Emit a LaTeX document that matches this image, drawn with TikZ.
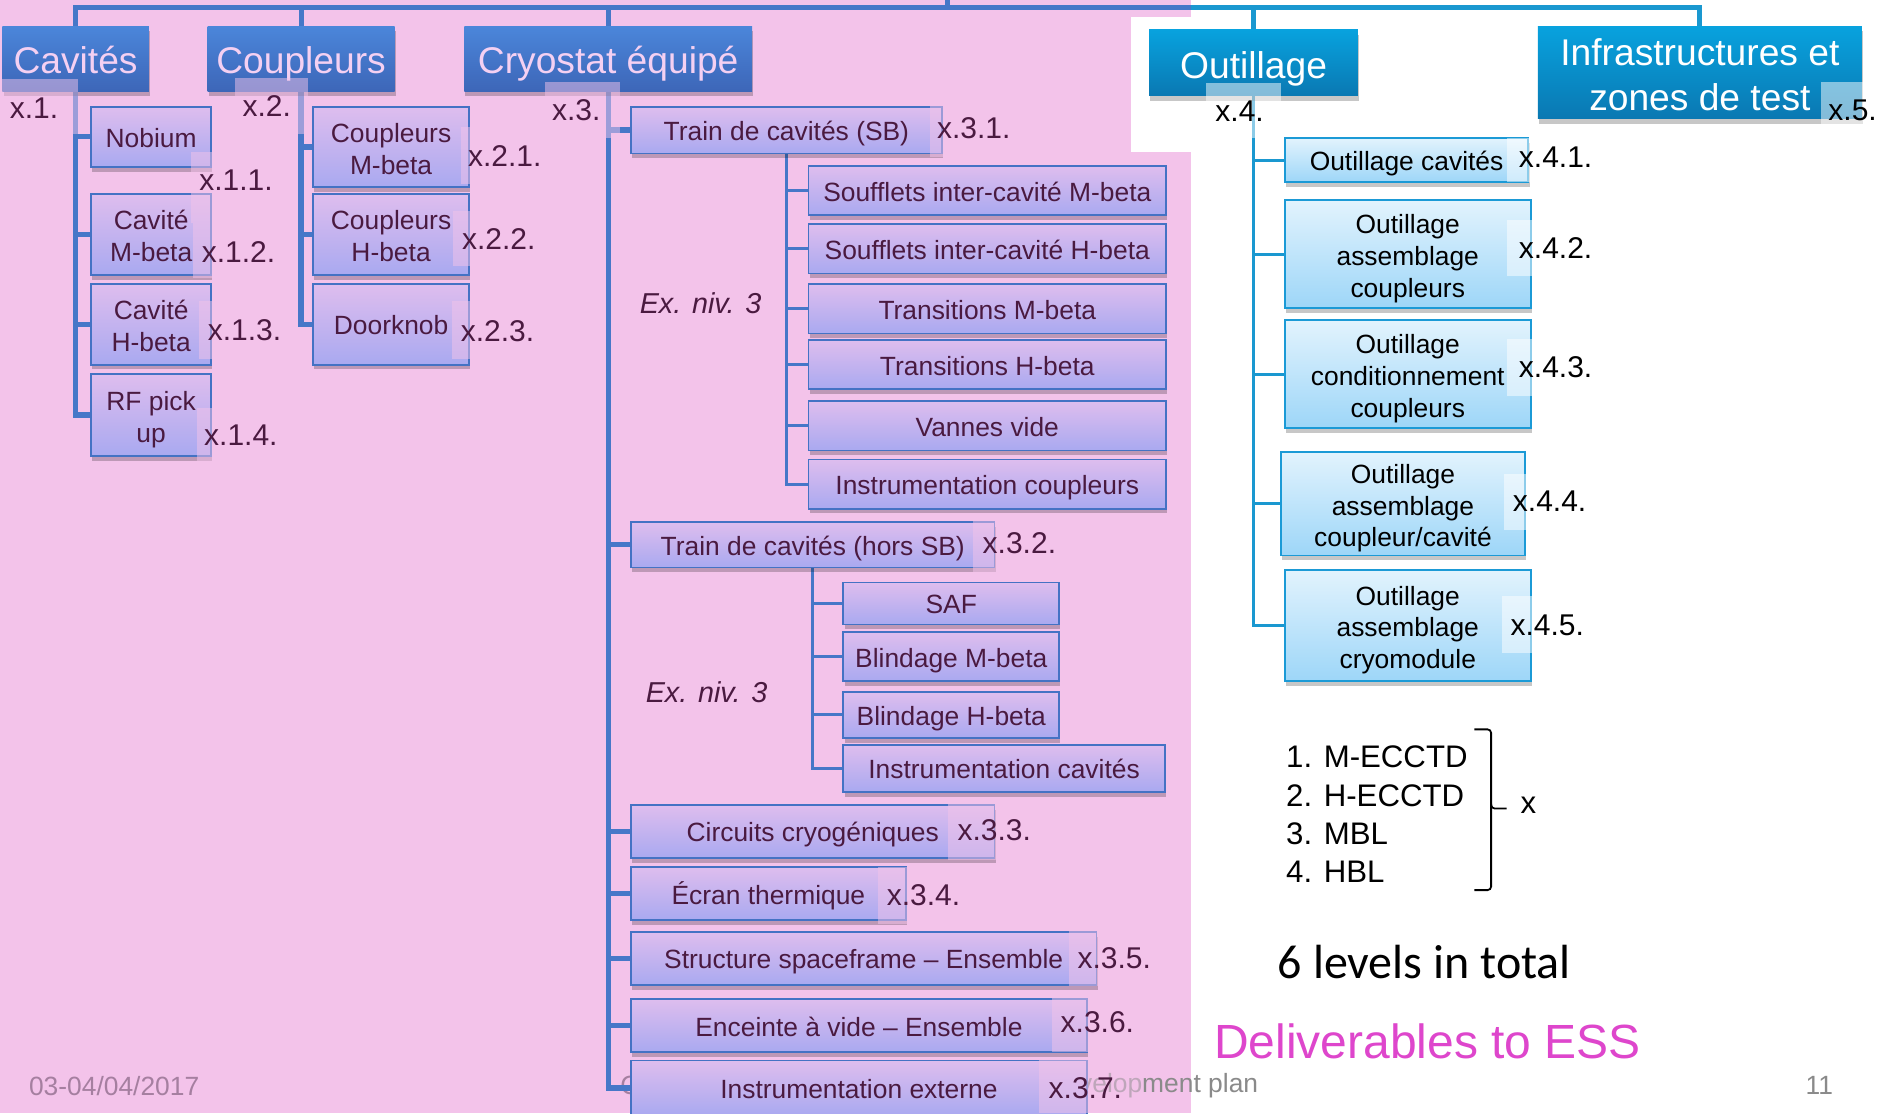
\documentclass[tikz,border=0pt]{standalone}
\usepackage{fontspec}
\setmainfont{Liberation Sans}
\newfontfamily\bodyfont{Carlito}
\usetikzlibrary{shadows}

\definecolor{pinkbg}{HTML}{F3C3EA}
\definecolor{hdrtop}{HTML}{4B86DA}
\definecolor{hdrbot}{HTML}{3D66B8}
\definecolor{hdrtxt}{HTML}{F4D0F2}
\definecolor{tealtop}{HTML}{08A2DE}
\definecolor{tealbot}{HTML}{0A78B2}
\definecolor{linkblue}{HTML}{4677C8}
\definecolor{linkteal}{HTML}{1A98D0}
\definecolor{boxtop}{HTML}{DEBDEE}
\definecolor{boxbot}{HTML}{A9A9F0}
\definecolor{boxedge}{HTML}{4472C4}
\definecolor{plum}{HTML}{4A1A40}
\definecolor{ltop}{HTML}{E2F3FD}
\definecolor{lbot}{HTML}{9DD6F8}
\definecolor{tealedge}{HTML}{1B9AD6}
\definecolor{magentatxt}{HTML}{DE46CC}
\definecolor{footgray}{HTML}{8A8A8A}
\definecolor{footpink}{HTML}{A57FA0}

\pgfdeclarelayer{back}
\pgfdeclarelayer{links}
\pgfsetlayers{back,links,main}

\tikzset{
  sz/.style 2 args={minimum width=#1pt, minimum height=#2pt},
  shade box/.style={drop shadow={shadow xshift=1pt, shadow yshift=-4pt, opacity=.22, fill=black}},
  % invisible rules fix where the text block sits in its box;
  % the argument of ml is the number of lines after the first one
  struts/.style={execute at begin node={\rule{0pt}{#1em}},
                 execute at end node={\rule[-.212em]{0pt}{.212em}}},
  struts/.default=1.0,
  ml/.style={execute at begin node={\rule{0pt}{\dimexpr #1\baselineskip+1.06em\relax}}},
  hdr/.style={draw=none, top color=hdrtop, bottom color=hdrbot, text=hdrtxt,
    font=\fontsize{31}{37.6}\selectfont, align=center, inner sep=0pt, struts=1.03, shade box},
  thdr/.style={hdr, top color=tealtop, bottom color=tealbot, text=white},
  wbs/.style={draw=boxedge, line width=1.5pt, top color=boxtop, bottom color=boxbot,
    text=plum, font=\fontsize{22}{26.5}\selectfont, align=center, inner sep=0pt, struts, shade box},
  tool/.style={wbs, draw=tealedge, top color=ltop, bottom color=lbot, text=black},
  bar/.style={draw=linkblue, line width=4pt},
  tbar/.style={draw=linkteal, line width=4pt},
  link/.style={draw=linkblue, line width=4.5pt},
  sublink/.style={draw=linkblue, line width=2.5pt},
  tlink/.style={draw=linkteal, line width=2.3pt},
  pveil/.style={fill=pinkbg, fill opacity=.5},
  wveil/.style={fill=white, fill opacity=.5},
  lbl/.style={font=\fontsize{25}{30}\selectfont, text=plum, inner sep=0pt, anchor=west},
  lblk/.style={lbl, text=black},
  foot/.style={font=\fontsize{22}{26}\selectfont, inner sep=0pt, anchor=west},
  note/.style={font=\fontsize{24}{28}\selectfont\itshape, text=plum, inner sep=0pt},
  item/.style={font=\fontsize{26}{32}\selectfont, text=black, inner sep=0pt, anchor=west},
}

\begin{document}
\begin{tikzpicture}[x=1pt,y=-1pt]
\useasboundingbox (0,0) rectangle (1568,928);

% ---------- backdrop and footer ----------
\begin{pgfonlayer}{back}
  \fill[white] (0,0) rectangle (1568,928);
  \fill[pinkbg] (0,0) rectangle (993,928);
  \fill[white] (943,14) rectangle (993,127);
  \node[foot, text=footpink] (date) at (24,905) {03-04/04/2017};
  \node[foot, text=footpink] (footc) at (517,905) {C};
  \node[foot, text=footgray, anchor=east] (footr) at (1049,905) {development plan};
  \node[foot, text=footgray] (page) at (1505,905) {11};
\end{pgfonlayer}

% ---------- level 1 ----------
\node[hdr, sz={122}{54}] (hcav) at (63,49) {Cavités};
\node[hdr, sz={156}{54}] (hcoup) at (251,49) {Coupleurs};
\node[hdr, sz={240}{54}] (hcryo) at (507,49) {Cryostat équipé};
\node[thdr, sz={174}{55}] (hout) at (1045,52.5) {Outillage};
\node[thdr, sz={270}{73}, ml=1] (hinf) at (1417,60.5) {Infrastructures et\\zones de test};

% ---------- Cavités ----------
\node[wbs, sz={100}{50}] (nob) at (126,114) {Nobium};
\node[wbs, ml=1, sz={100}{67}] (cavm) at (126,195.5) {Cavité\\M-beta};
\node[wbs, ml=1, sz={100}{67}] (cavh) at (126,270.5) {Cavité\\H-beta};
\node[wbs, ml=1, sz={100}{68}] (rfpu) at (126,346) {RF pick\\up};

% ---------- Coupleurs ----------
\node[wbs, ml=1, sz={130}{67}] (coupm) at (326,122.5) {Coupleurs\\M-beta};
\node[wbs, ml=1, sz={130}{67}] (couph) at (326,195.5) {Coupleurs\\H-beta};
\node[wbs, sz={130}{67}] (door) at (326,270.5) {Doorknob};

% ---------- Cryostat équipé ----------
\node[wbs, sz={259}{39}] (tsb) at (655.5,108.5) {Train de cavités (SB)};
\node[wbs, sz={298}{41}] (sb1) at (823,159) {Soufflets inter-cavité M-beta};
\node[wbs, sz={298}{41}] (sb2) at (823,207.5) {Soufflets inter-cavité H-beta};
\node[wbs, sz={298}{41}] (sb3) at (823,257.5) {Transitions M-beta};
\node[wbs, sz={298}{41}] (sb4) at (823,304) {Transitions H-beta};
\node[wbs, sz={298}{41}] (sb5) at (823,355) {Vannes vide};
\node[wbs, sz={298}{41}] (sb6) at (823,403.5) {Instrumentation coupleurs};

\node[wbs, sz={303}{38}] (ths) at (677.5,454) {Train de cavités (hors SB)};
\node[wbs, sz={180}{35}] (saf) at (793,503) {SAF};
\node[wbs, sz={180}{41}] (blm) at (793,547.5) {Blindage M-beta};
\node[wbs, sz={180}{38}] (blh) at (793,596) {Blindage H-beta};
\node[wbs, sz={268}{39}] (icav) at (837,640.5) {Instrumentation cavités};

\node[wbs, sz={303}{44}] (circ) at (677.5,693) {Circuits cryogéniques};
\node[wbs, sz={229}{44}] (ecr) at (640.5,745) {Écran thermique};
\node[wbs, sz={388}{44}] (struc) at (720,799) {Structure spaceframe – Ensemble};
\node[wbs, sz={380}{44}] (ence) at (716,855) {Enceinte à vide – Ensemble};
\node[wbs, sz={380}{46}] (iext) at (716,907) {Instrumentation externe};

\node[note] (ex1) at (584,253) {Ex. niv. 3};
\node[note] (ex2) at (589,577) {Ex. niv. 3};

% ---------- Outillage ----------
\node[tool, sz={203}{37}] (oc) at (1172.5,133.5) {Outillage cavités};
\node[tool, ml=2, sz={205}{90}] (oac) at (1173.5,212) {Outillage\\assemblage\\coupleurs};
\node[tool, ml=2, sz={205}{90}] (occ) at (1173.5,312) {Outillage\\conditionnement\\coupleurs};
\node[tool, ml=2, sz={203}{86}] (oacc) at (1169.5,420) {Outillage\\assemblage\\coupleur/cavité};
\node[tool, ml=2, sz={205}{93}] (oacm) at (1173.5,521.5) {Outillage\\assemblage\\cryomodule};

% ---------- connectors ----------
\coordinate (root) at (790,0);
\coordinate (hub) at (790,6);
\coordinate (edge) at (993,6);
\begin{pgfonlayer}{links}
  \draw[bar] (hcav.north) |- (hub);
  \draw[bar] (hcoup.north) -- (hcoup.north |- hub);
  \draw[bar] (hcryo.north) -- (hcryo.north |- hub);
  \draw[bar] (root) -- (hub) -- (edge);
  \draw[tbar] (edge) -| (hinf.north);
  \draw[tbar] (hout.north) -- (hout.north |- hub);

  \draw[link] (hcav.south) -- (hcav.south |- rfpu.west) -- (rfpu.west);
  \foreach \n in {nob,cavm,cavh} \draw[link] (hcav.south |- \n.west) -- (\n.west);

  \draw[link] (hcoup.south) -- (hcoup.south |- door.west) -- (door.west);
  \foreach \n in {coupm,couph} \draw[link] (hcoup.south |- \n.west) -- (\n.west);

  \draw[link] (hcryo.south) -- (hcryo.south |- iext.west) -- (iext.west);
  \foreach \n in {tsb,ths,circ,ecr,struc,ence} \draw[link] (hcryo.south |- \n.west) -- (\n.west);

  \draw[sublink] (tsb.south) -- (tsb.south |- sb6.west) -- (sb6.west);
  \foreach \n in {sb1,sb2,sb3,sb4,sb5} \draw[sublink] (tsb.south |- \n.west) -- (\n.west);

  \draw[sublink] (ths.south) -- (ths.south |- icav.west) -- (icav.west);
  \foreach \n in {saf,blm,blh} \draw[sublink] (ths.south |- \n.west) -- (\n.west);

  \draw[tlink] (hout.south) -- (hout.south |- oacm.west) -- (oacm.west);
  \foreach \n in {oc,oac,occ,oacc} \draw[tlink] (hout.south |- \n.west) -- (\n.west);
\end{pgfonlayer}

% ---------- numbering labels on translucent veils ----------
\fill[pveil] (2,66) rectangle (65,112);       \node[lbl] (n1) at (8,90) {x.1.};
\fill[pveil] (159,127) rectangle (240,186);   \node[lbl] (n11) at (166,150) {x.1.1.};
\fill[pveil] (161,186) rectangle (240,232);   \node[lbl] (n12) at (168,210) {x.1.2.};
\fill[pveil] (166,251) rectangle (245,299);   \node[lbl] (n13) at (173,275) {x.1.3.};
\fill[pveil] (164,340) rectangle (243,386);   \node[lbl] (n14) at (170,363) {x.1.4.};

\fill[pveil] (196,65) rectangle (257,112);    \node[lbl] (n2) at (202,88) {x.2.};
\fill[pveil] (384,106) rectangle (465,153);   \node[lbl] (n21) at (390,130) {x.2.1.};
\fill[pveil] (378,176) rectangle (459,222);   \node[lbl] (n22) at (385,199) {x.2.2.};
\fill[pveil] (377,251) rectangle (458,299);   \node[lbl] (n23) at (384,276) {x.2.3.};

\fill[pveil] (454,68) rectangle (517,115);    \node[lbl] (n3) at (460,92) {x.3.};
\fill[pveil] (775,88) rectangle (856,131);    \node[lbl] (n31) at (781,107) {x.3.1.};
\fill[pveil] (811,433) rectangle (890,477);   \node[lbl] (n32) at (819,453) {x.3.2.};
\fill[pveil] (790,670) rectangle (870,717);   \node[lbl] (n33) at (798,692) {x.3.3.};
\fill[pveil] (732,723) rectangle (812,770);   \node[lbl] (n34) at (739,746) {x.3.4.};
\fill[pveil] (891,776) rectangle (972,822);   \node[lbl] (n35) at (898,799) {x.3.5.};
\fill[pveil] (877,830) rectangle (957,877);   \node[lbl] (n36) at (884,852) {x.3.6.};
\fill[pveil] (866,884) rectangle (953,928);   \node[lbl] (n37) at (874,907) {x.3.7.};

\fill[wveil] (1005,69) rectangle (1068,115);  \node[lblk] (n4) at (1013,93) {x.4.};
\fill[wveil] (1256,115) rectangle (1340,152); \node[lblk] (n41) at (1266,131) {x.4.1.};
\fill[wveil] (1256,183) rectangle (1340,230); \node[lblk] (n42) at (1266,207) {x.4.2.};
\fill[wveil] (1256,283) rectangle (1340,330); \node[lblk] (n43) at (1266,306) {x.4.3.};
\fill[wveil] (1254,395) rectangle (1335,442); \node[lblk] (n44) at (1261,418) {x.4.4.};
\fill[wveil] (1252,497) rectangle (1333,544); \node[lblk] (n45) at (1259,521) {x.4.5.};

\fill[wveil] (1518,68) rectangle (1568,106);  \node[lblk] (n5) at (1524,92) {x.5.};

% ---------- cryomodule list ----------
\node[item] (m1) at (1072,631) {1. M-ECCTD};
\node[item] (m2) at (1072,663) {2. H-ECCTD};
\node[item] (m3) at (1072,695) {3. MBL};
\node[item] (m4) at (1072,727) {4. HBL};
\coordinate (brtop) at (1229,608);
\coordinate (brbot) at (1229,742);
\coordinate (brtip) at (1256,674);
\draw[line width=1.5pt, rounded corners=3pt]
  (brtop) -- (1243,608) -- (1243,674) -- (brtip);
\draw[line width=1.5pt, rounded corners=3pt]
  (1243,670) -- (1243,742) -- (brbot);
\node[item, anchor=center] (xall) at (1274,671) {x};

\node[inner sep=0pt, anchor=west, font=\bodyfont\fontsize{40}{48}\selectfont] (levels) at (1065,802) {6 levels in total};
\node[inner sep=0pt, anchor=west, text=magentatxt, font=\fontsize{40}{48}\selectfont] (deliv) at (1012,868) {Deliverables to ESS};
\end{tikzpicture}
\end{document}
